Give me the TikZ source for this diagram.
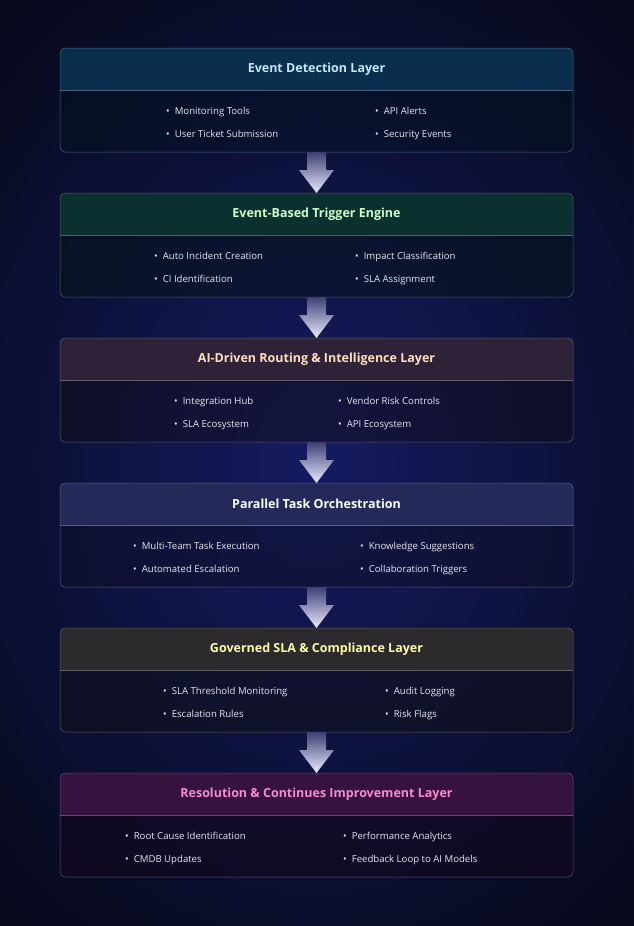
\documentclass[tikz,border=0pt]{standalone}
\usepackage{fontspec}
\setmainfont{Open Sans}
\usetikzlibrary{positioning}

\definecolor{bgout}{HTML}{070A1C}
\definecolor{bgin}{HTML}{1C2380}
\definecolor{itemtxt}{HTML}{E4E6F0}

\tikzset{
  layertitle/.style={font=\bfseries\fontsize{12.5}{14}\selectfont, text=#1},
  layeritem/.style={anchor=base west, text=itemtxt,
                    font=\fontsize{9.6}{11}\selectfont, inner sep=0pt},
  flowarrow/.style={top color=#1, bottom color=white!92!blue, draw=none}
}

% \layer{name}{top}{box colour}{title colour}{title}
\newcommand{\layer}[5]{%
  \begin{scope}[yshift=-#2pt]
    \fill[#3!40!black, fill opacity=0.45, rounded corners=5pt] (60,0) rectangle (573,104);
    \fill[#3, rounded corners=5pt] (60,0) rectangle (573,20);
    \fill[#3] (60,10) rectangle (573,42);
    \draw[#3!75!white, line width=0.4pt] (60,42) -- (573,42);
    \draw[#3!75!white, line width=0.5pt, rounded corners=5pt] (60,0) rectangle (573,104);
    \node (#1) [layertitle=#4] at (316.5,21) {#5};
  \end{scope}%
}
\newcommand{\bul}{•\hspace{5pt}}

\begin{document}
\begin{tikzpicture}[x=1pt, y=-1pt]
    \useasboundingbox (0,0) rectangle (633,926);
    % background
    \shade[inner color=bgin, outer color=bgout] (-150,-120) rectangle (783,1046);
    \fill[bgout, opacity=0.3] (0,0) rectangle (633,926);

    \definecolor{c1}{HTML}{0B2E4E}
    \definecolor{c2}{HTML}{0C3030}
    \definecolor{c3}{HTML}{2E2238}
    \definecolor{c4}{HTML}{24295A}
    \definecolor{c5}{HTML}{2C2A2C}
    \definecolor{c6}{HTML}{36123E}

    % Event Detection Layer
    \layer{detect}{48}{c1}{cyan!25!white}{Event Detection Layer}
    \begin{scope}[yshift=-48pt]
      \node (detecta) [layeritem] at (166,66) {\bul Monitoring Tools};
      \node (detectb) [layeritem] at (166,89) {\bul User Ticket Submission};
      \node (detectc) [layeritem] at (375,66) {\bul API Alerts};
      \node (detectd) [layeritem] at (375,89) {\bul Security Events};
    \end{scope}

    % Event-Based Trigger Engine
    \layer{trigger}{193}{c2}{green!20!white}{Event-Based Trigger Engine}
    \begin{scope}[yshift=-193pt]
      \node (triggera) [layeritem] at (154,66) {\bul Auto Incident Creation};
      \node (triggerb) [layeritem] at (154,89) {\bul CI Identification};
      \node (triggerc) [layeritem] at (355,66) {\bul Impact Classification};
      \node (triggerd) [layeritem] at (355,89) {\bul SLA Assignment};
    \end{scope}

    % AI-Driven Routing
    \layer{routing}{338}{c3}{orange!25!white}{AI-Driven Routing \& Intelligence Layer}
    \begin{scope}[yshift=-338pt]
      \node (routinga) [layeritem] at (174,66) {\bul Integration Hub};
      \node (routingb) [layeritem] at (174,89) {\bul SLA Ecosystem};
      \node (routingc) [layeritem] at (338,66) {\bul Vendor Risk Controls};
      \node (routingd) [layeritem] at (338,89) {\bul API Ecosystem};
    \end{scope}

    % Parallel Task Orchestration
    \layer{parallel}{483}{c4}{white}{Parallel Task Orchestration}
    \begin{scope}[yshift=-483pt]
      \node (parallela) [layeritem] at (133,66) {\bul Multi-Team Task Execution};
      \node (parallelb) [layeritem] at (133,89) {\bul Automated Escalation};
      \node (parallelc) [layeritem] at (360,66) {\bul Knowledge Suggestions};
      \node (paralleld) [layeritem] at (360,89) {\bul Collaboration Triggers};
    \end{scope}

    % Governed SLA
    \layer{governed}{628}{c5}{yellow!35!white}{Governed SLA \& Compliance Layer}
    \begin{scope}[yshift=-628pt]
      \node (governeda) [layeritem] at (163,66) {\bul SLA Threshold Monitoring};
      \node (governedb) [layeritem] at (163,89) {\bul Escalation Rules};
      \node (governedc) [layeritem] at (385,66) {\bul Audit Logging};
      \node (governedd) [layeritem] at (385,89) {\bul Risk Flags};
    \end{scope}

    % Resolution
    \layer{resolve}{773}{c6}{magenta!45!white}{Resolution \& Continues Improvement Layer}
    \begin{scope}[yshift=-773pt]
      \node (resolvea) [layeritem] at (125,66) {\bul Root Cause Identification};
      \node (resolveb) [layeritem] at (125,89) {\bul CMDB Updates};
      \node (resolvec) [layeritem] at (343,66) {\bul Performance Analytics};
      \node (resolved) [layeritem] at (343,89) {\bul Feedback Loop to AI Models};
    \end{scope}

    % arrows between layers
    \foreach \y in {152,297,442,587,732} {
      \shade[flowarrow=blue!30!gray!70!black]
        (307,\y) -- (326,\y) -- (326,\y+18) -- (334,\y+18) -- (316.5,\y+41)
        -- (299,\y+18) -- (307,\y+18) -- cycle;
    }
\end{tikzpicture}
\end{document}
